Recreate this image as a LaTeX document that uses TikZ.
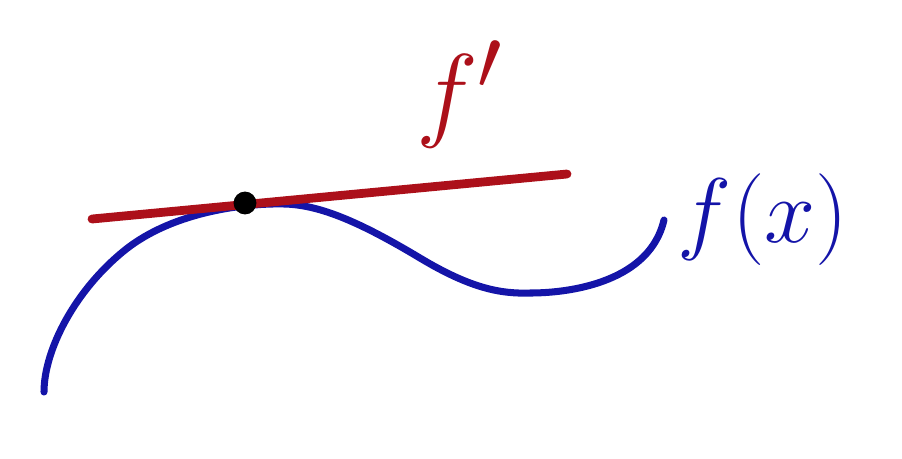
\documentclass[tikz,border=0pt]{standalone}
\usepackage{amsmath,amssymb}
\usepackage{graphicx}
\usepackage{tikz}
\usepackage{xcolor}

\definecolor{curveblue}{HTML}{1414A8}
\definecolor{tangentred}{HTML}{AC101A}

\tikzset{
  fcurve/.style={curveblue, line width=4pt, line cap=round, line join=round},
  tangent/.style={tangentred, line width=5pt, line cap=round},
  touchdot/.style={circle, fill=black, inner sep=0pt, minimum size=13pt},
  biglabel/.style={font=\Huge, inner sep=0pt}
}

\begin{document}
\begin{tikzpicture}[x=0.02cm,y=-0.02cm]
\useasboundingbox (0,0) rectangle (902,458);
\draw[fcurve] (44,392) .. controls (44,350) and (75,290) .. (125,250)
  .. controls (175,210) and (250,203) .. (285,204)
  .. controls (320,205) and (360,222) .. (420,258)
  .. controls (470,288) and (500,294) .. (530,293)
  .. controls (575,293) and (650,280) .. (664,220);
\coordinate (tleft) at (92,219);
\coordinate (tright) at (567,174);
\draw[tangent] (tleft) -- (tright);
\node[touchdot] (touch) at (245,203) {};
\node[biglabel, tangentred] (fprime) at (460,94) {\scalebox{2.4}{$f'$}};
\node[biglabel, curveblue] (fx) at (763,220) {\scalebox{2.1}{$f(x)$}};
\end{tikzpicture}
\end{document}
